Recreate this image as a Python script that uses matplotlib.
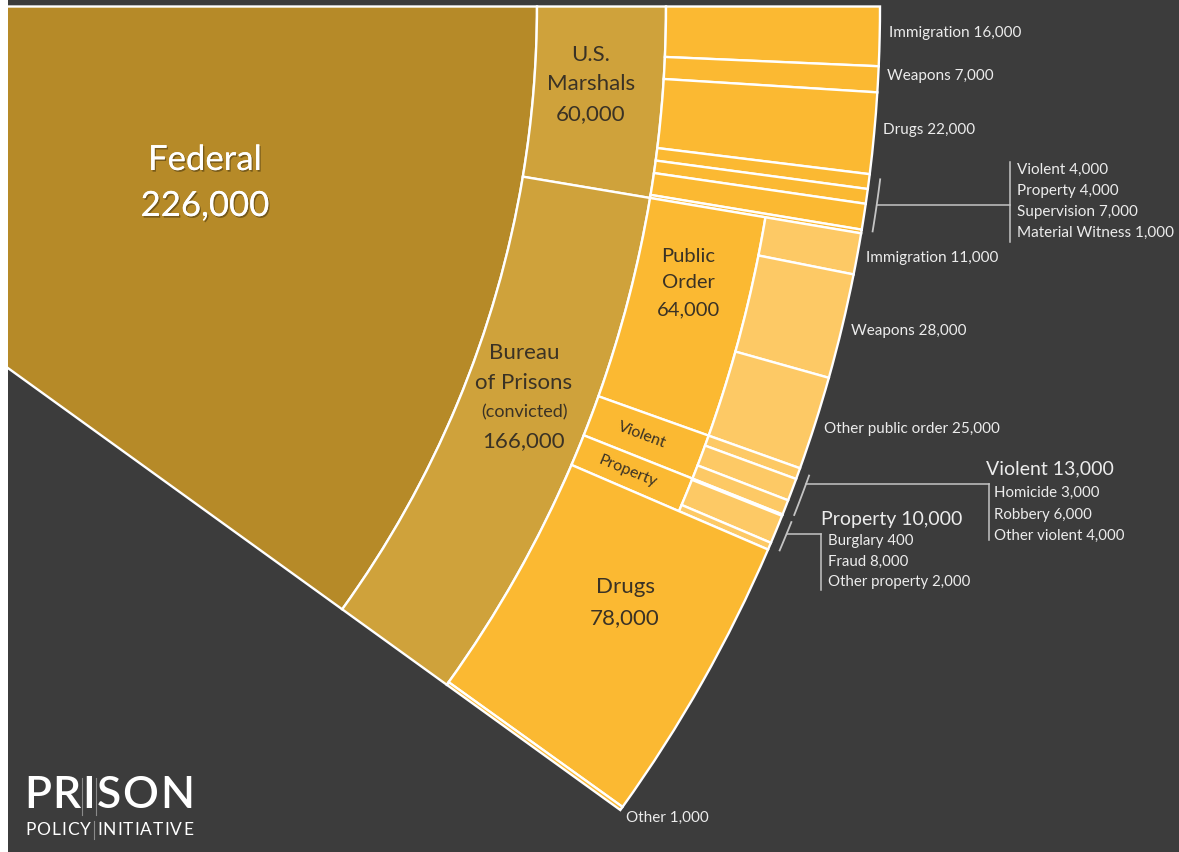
import matplotlib
matplotlib.use("Agg")
import matplotlib.pyplot as plt
from matplotlib.patches import Wedge, Rectangle
import matplotlib.patheffects as pe
import numpy as np

# ---------------- data ----------------
federal_label = "Federal"
federal_total = 226000
level2_labels = ["U.S. Marshals", "Bureau of Prisons (convicted)"]
level2_values = [60000, 166000]

marshals_labels = ["Immigration", "Weapons", "Drugs", "Violent", "Property",
                   "Supervision", "Material Witness"]
marshals_values = [16000, 7000, 22000, 4000, 4000, 7000, 1000]

bop_labels = ["Public Order", "Violent", "Property", "Drugs", "Other"]
bop_values = [64000, 13000, 10000, 78000, 1000]

public_order_labels = ["Immigration", "Weapons", "Other public order"]
public_order_values = [11000, 28000, 25000]

violent_labels = ["Homicide", "Robbery", "Other violent"]
violent_values = [3000, 6000, 4000]

property_labels = ["Burglary", "Fraud", "Other property"]
property_values = [400, 8000, 2000]

# ---------------- style / layout ----------------
W, H = 1179, 852
BG = "#3c3c3c"
C_FED = "#b68a28"
C_L2 = "#cfa23b"
C_L3 = "#fbb932"
C_L4 = "#fdc965"
DARK = "#3a3225"
LIGHT = "#ececec"
FONT = ["Lato", "DejaVu Sans"]

CX, CY = -493.0, 6.5          # wedge apex (off-canvas)
SPAN = 35.82                  # degrees covered by the federal slice
R1, R2, R3, R4 = 1030, 1159, 1276, 1373
RL = 1384                     # radius for outside labels / ticks
EDGE = dict(ec="white", lw=1.7)

fig = plt.figure(figsize=(W / 100, H / 100), dpi=100)
fig.patch.set_facecolor(BG)
ax = fig.add_axes([0, 0, 1, 1])
ax.set_facecolor(BG)
ax.set_xlim(0, W)
ax.set_ylim(H, 0)
ax.axis("off")
renderer = fig.canvas.get_renderer()

deg_per = SPAN / federal_total


def polar(r, ang):
    a = np.deg2rad(ang)
    return CX + r * np.cos(a), CY + r * np.sin(a)


def wedge(r_in, r_out, a0, a1, color):
    w = None if r_in == 0 else r_out - r_in
    ax.add_patch(Wedge((CX, CY), r_out, a0, a1, width=w, fc=color, **EDGE))


def spans(values, a0, a1):
    tot = sum(values)
    out, cur = [], a0
    for v in values:
        step = (a1 - a0) * v / tot
        out.append((cur, cur + step))
        cur += step
    return out


# Federal
wedge(0, R1, 0, SPAN, C_FED)

# level 2
l2_spans = []
cur = 0.0
for v in level2_values:
    l2_spans.append((cur, cur + v * deg_per))
    cur += v * deg_per
for (a0, a1) in l2_spans:
    wedge(R1, R2, a0, a1, C_L2)

# Marshals children (full depth)
m_spans = spans(marshals_values, *l2_spans[0])
for (a0, a1) in m_spans:
    wedge(R2, R4, a0, a1, C_L3)

# BOP children
b_spans = spans(bop_values, *l2_spans[1])
grand = {0: public_order_values, 1: violent_values, 2: property_values}
grand_spans = {}
for i, (a0, a1) in enumerate(b_spans):
    if i in grand:
        wedge(R2, R3, a0, a1, C_L3)
        gs = spans(grand[i], a0, a1)
        grand_spans[i] = gs
        for (g0, g1) in gs:
            wedge(R3, R4, g0, g1, C_L4)
    else:
        wedge(R2, R4, a0, a1, C_L3)

# left white border strip of the screenshot
ax.add_patch(Rectangle((0, 0), 8, H, fc="white", ec="none", zorder=5))

# ---------------- inner labels ----------------
shadow = [pe.withSimplePatchShadow(offset=(1, -1.2), shadow_rgbFace="black", alpha=0.35),
          pe.Normal()]
ax.text(205, 160, federal_label, color="white", fontsize=25, ha="center", va="center",
        family=FONT, path_effects=shadow)
ax.text(205, 206, f"{federal_total:,}", color="white", fontsize=25, ha="center",
        va="center", family=FONT, path_effects=shadow)

for txt, y in [("U.S.", 55), ("Marshals", 84), (f"{level2_values[0]:,}", 114)]:
    ax.text(591, y, txt, color=DARK, fontsize=16, ha="center", va="center", family=FONT)

for txt, y, fs in [("Bureau", 353, 16), ("of Prisons", 383, 16), ("(convicted)", 412, 13),
                   (f"{level2_values[1]:,}", 441, 16)]:
    ax.text(524, y, txt, color=DARK, fontsize=fs, ha="center", va="center", family=FONT)

for txt, y in [("Public", 257), ("Order", 283), (f"{bop_values[0]:,}", 310)]:
    ax.text(688, y, txt, color=DARK, fontsize=14.5, ha="center", va="center", family=FONT)

for txt, y in [(bop_labels[3], 587), (f"{bop_values[3]:,}", 618)]:
    ax.text(625, y, txt, color=DARK, fontsize=16, ha="center", va="center", family=FONT)

for i in (1, 2):
    a0, a1 = b_spans[i]
    mid = (a0 + a1) / 2
    x, y = polar((R2 + R3) / 2 - 4, mid)
    ax.text(x, y, bop_labels[i], color=DARK, fontsize=11.5, ha="center", va="center",
            rotation=-mid, rotation_mode="anchor", family=FONT)

# ---------------- outside labels ----------------
FS_OUT = 11


def out_label(ang, text, fs=FS_OUT, dx=0, dy=0):
    x, y = polar(RL, ang)
    ax.text(x + dx, y + dy, text, color=LIGHT, fontsize=fs, ha="left", va="center",
            family=FONT)


for k in range(3):
    a0, a1 = m_spans[k]
    out_label((a0 + a1) / 2, f"{marshals_labels[k]} {marshals_values[k]:,}", dx=-2, dy=-4)

for k, (g0, g1) in enumerate(grand_spans[0]):
    out_label((g0 + g1) / 2, f"{public_order_labels[k]} {public_order_values[k]:,}", dx=-2, dy=2)

a0, a1 = b_spans[4]
out_label((a0 + a1) / 2, f"{bop_labels[4]} {bop_values[4]:,}", dx=-4, dy=3)

TICK = "#c4c4c4"


def tick(a0, a1, inset=0.12):
    th = np.linspace(a0 + inset, a1 - inset, 20)
    x, y = polar(RL, th)
    ax.plot(x, y, color=TICK, lw=1.3, solid_capstyle="butt")


def x_on_tick(y):
    return CX + np.sqrt(RL ** 2 - (y - CY) ** 2)


# Marshals small categories bracket
g_a0, g_a1 = m_spans[3][0], m_spans[-1][1]
tick(g_a0, g_a1)
hy = 205
ax.plot([x_on_tick(hy), 1010], [hy, hy], color=TICK, lw=1.1)
ax.plot([1010, 1010], [162, 242], color=TICK, lw=1.1)
for k, y in zip(range(3, 7), [170, 191, 212, 233]):
    ax.text(1017, y, f"{marshals_labels[k]} {marshals_values[k]:,}", color=LIGHT,
            fontsize=FS_OUT, ha="left", va="center", family=FONT)

# BOP violent bracket
tick(*b_spans[1])
hy = 484
ax.plot([x_on_tick(hy), 989], [hy, hy], color=TICK, lw=1.1)
ax.plot([989, 989], [hy, 540], color=TICK, lw=1.1)
ax.text(986, 469, f"{bop_labels[1]} {bop_values[1]:,}", color=LIGHT, fontsize=14,
        ha="left", va="center", family=FONT)
for k, y in enumerate([493, 515, 536]):
    ax.text(994, y, f"{violent_labels[k]} {violent_values[k]:,}", color=LIGHT,
            fontsize=10.8, ha="left", va="center", family=FONT)

# BOP property bracket
tick(*b_spans[2])
hy = 534
ax.plot([x_on_tick(hy), 821], [hy, hy], color=TICK, lw=1.1)
ax.plot([821, 821], [hy, 590], color=TICK, lw=1.1)
ax.text(821, 519, f"{bop_labels[2]} {bop_values[2]:,}", color=LIGHT, fontsize=14,
        ha="left", va="center", family=FONT)
for k, y in enumerate([541, 562, 582]):
    ax.text(828, y, f"{property_labels[k]} {property_values[k]:,}", color=LIGHT,
            fontsize=10.8, ha="left", va="center", family=FONT)


# ---------------- logo ----------------
def spaced_word_rows(x0, x1, y, words, fs, word_gap, weight="normal"):
    """Lay letters of words across [x0, x1] with uniform letter spacing."""
    objs = []
    for w in words:
        row = []
        for ch in w:
            t = ax.text(0, y, ch, color="white", fontsize=fs, ha="left", va="center",
                        family=FONT, weight=weight)
            row.append((t, t.get_window_extent(renderer).width))
        objs.append(row)
    n_letters = sum(len(r) for r in objs)
    total_w = sum(w for r in objs for _, w in r)
    n_gaps = n_letters - len(objs)
    g = (x1 - x0 - total_w - word_gap * (len(objs) - 1)) / max(n_gaps, 1)
    x = x0
    positions = []
    for wi, row in enumerate(objs):
        for li, (t, w) in enumerate(row):
            t.set_x(x)
            positions.append((x, x + w))
            x += w
            if li < len(row) - 1:
                x += g
        if wi < len(objs) - 1:
            x += word_gap
    return positions, g


pos, g = spaced_word_rows(24, 194, 796, ["PRISON"], 32, 0, weight="semibold")
sep = "#8a8a8a"
for xa in [(pos[1][1] + pos[2][0]) / 2, (pos[2][1] + pos[3][0]) / 2]:
    ax.plot([xa, xa], [778, 815], color=sep, lw=0.8)
pos2, _ = spaced_word_rows(25, 193, 830, ["POLICY", "INITIATIVE"], 12.5, 6)
xa = (pos2[5][1] + pos2[6][0]) / 2
ax.plot([xa, xa], [821, 839], color=sep, lw=0.8)

fig.savefig("out.png", dpi=100, facecolor=BG)
